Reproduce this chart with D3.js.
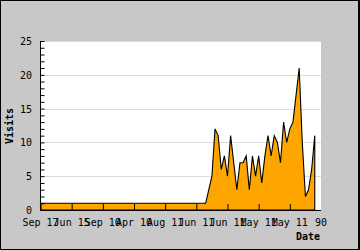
<!DOCTYPE html>
<html>
<head>
<meta charset="utf-8">
<script src="https://cdn.jsdelivr.net/npm/d3@7"></script>
<style>
html,body{margin:0;padding:0;background:#c8c8c8;}
svg{display:block;}
text{font-family:"DejaVu Sans Mono",monospace;font-size:10px;fill:#000;}
</style>
</head>
<body>
<svg id="chart" width="360" height="250"></svg>
<script>
// ---- data ----
const visits = [
  1,1,1,1,1,1,1,1,1,1,
  1,1,1,1,1,1,1,1,1,1,
  1,1,1,1,1,1,1,1,1,1,
  1,1,1,1,1,1,1,1,1,1,
  1,1,1,1,1,1,1,1,1,1,
  1,1,1,1,3,5,12,11,6,8,
  5,11,7,3,7,7,8,3,8,5,
  8,4,8,11,8,11,10,7,13,10,
  12,13,17,21,10,2,3,6,11
];
const tickIndex = [0,10,20,30,40,50,60,70,80,90];
const tickLabels = ["Sep 17","Jun 15","Sep 10","Apr 10","Aug 11","Jun 11","Jun 11","May 11","May 11","90"];
const yTicks = [0,5,10,15,20,25];
const yLabel = "Visits";
const xLabel = "Date";

(function(){
const W = 360, H = 250;
const pL = 40.5, pR = 321, pT = 41, pB = 210;

const svg = d3.select("#chart");
svg.append("rect").attr("x",0.5).attr("y",0.5).attr("width",W-1).attr("height",H-1)
  .attr("fill","#c8c8c8").attr("stroke","#000").attr("stroke-width",1);
svg.append("line").attr("x1",358.5).attr("x2",358.5).attr("y1",0).attr("y2",H).attr("stroke","#000");

const x = d3.scaleLinear().domain([0,90]).range([pL,pR]);
const y = d3.scaleLinear().domain([0,25]).range([pB,pT]);

svg.append("rect").attr("x",pL).attr("y",pT).attr("width",pR-pL).attr("height",pB-pT).attr("fill","#fff");

svg.append("g").selectAll("line").data(yTicks.filter(d=>d>0)).join("line")
  .attr("x1",pL).attr("x2",pR)
  .attr("y1",d=>Math.round(y(d))+0.5).attr("y2",d=>Math.round(y(d))+0.5)
  .attr("stroke","#dcdcdc").attr("stroke-width",1);

const area = d3.area().x((d,i)=>x(i)).y0(y(0)).y1(d=>y(d));
svg.append("path").attr("d",area(visits) + "Z")
  .attr("fill","#ffa500").attr("stroke","#000").attr("stroke-width",1.1);

const yAxis = d3.axisLeft(y).tickValues(d3.range(0,26,1)).tickSize(-4).tickFormat("");
const gy = svg.append("g").attr("transform",`translate(${pL},0)`).call(yAxis);
gy.select(".domain").remove();
gy.selectAll(".tick line").attr("stroke","#000");
svg.append("g").selectAll("text").data(yTicks).join("text")
  .attr("x",32).attr("y",d=>y(d)+4).attr("text-anchor","end").text(d=>d);
svg.append("line").attr("x1",pL).attr("x2",pL).attr("y1",pT).attr("y2",pB).attr("stroke","#000");

const xAxis = d3.axisBottom(x).tickValues(tickIndex.slice(0,-1)).tickSize(-6).tickFormat("");
const gx = svg.append("g").attr("transform",`translate(0,${pB})`).call(xAxis);
gx.select(".domain").remove();
gx.selectAll(".tick line").attr("stroke","#000");
svg.append("line").attr("x1",pL).attr("x2",pR).attr("y1",pB+0.5).attr("y2",pB+0.5).attr("stroke","#000");
svg.append("g").selectAll("text").data(tickIndex).join("text")
  .attr("x",d=>x(d)).attr("y",225.5).attr("text-anchor","middle")
  .text((d,i)=>tickLabels[i]);

svg.append("text").attr("transform","translate(13,126) rotate(-90)").attr("text-anchor","middle")
  .style("font-weight","bold").text(yLabel);
svg.append("text").attr("x",320).attr("y",240).attr("text-anchor","end")
  .style("font-weight","bold").text(xLabel);
})();
</script>
</body>
</html>
